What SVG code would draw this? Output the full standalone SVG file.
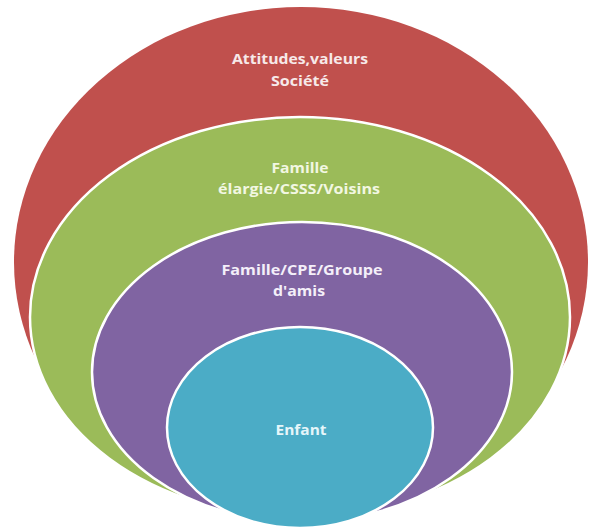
<svg xmlns="http://www.w3.org/2000/svg" width="590" height="531" viewBox="0 0 590 531">
<style>
.lbl{font-family:"Open Sans","Liberation Sans",sans-serif;font-weight:700;font-size:15px;text-anchor:middle}
.ring{stroke:#ffffff;stroke-width:2.5}
</style>
<rect x="0" y="0" width="590" height="531" fill="#ffffff"/>
<g id="societe">
<ellipse cx="301" cy="262" rx="287" ry="255" fill="#C0504D"/>
<text class="lbl" fill="#F7E9E9" x="300" y="64" textLength="136" lengthAdjust="spacingAndGlyphs">Attitudes,valeurs</text>
<text class="lbl" fill="#F7E9E9" x="300" y="86" textLength="58" lengthAdjust="spacingAndGlyphs">Société</text>
</g>
<g id="famille-elargie">
<ellipse class="ring" cx="300" cy="317" rx="270" ry="200" fill="#9BBB59"/>
<text class="lbl" fill="#F2F7E2" x="300" y="173" textLength="57" lengthAdjust="spacingAndGlyphs">Famille</text>
<text class="lbl" fill="#F2F7E2" x="299" y="194" textLength="162" lengthAdjust="spacingAndGlyphs">élargie/CSSS/Voisins</text>
</g>
<g id="famille-cpe">
<ellipse class="ring" cx="302" cy="372" rx="210" ry="150" fill="#8064A2"/>
<text class="lbl" fill="#F4EFF9" x="302" y="275" textLength="161" lengthAdjust="spacingAndGlyphs">Famille/CPE/Groupe</text>
<text class="lbl" fill="#F4EFF9" x="299" y="296" textLength="52" lengthAdjust="spacingAndGlyphs">d'amis</text>
</g>
<g id="enfant">
<ellipse class="ring" cx="300" cy="427.5" rx="133" ry="100.5" fill="#4BACC6"/>
<text class="lbl" fill="#E6F6FA" x="301" y="435" textLength="51" lengthAdjust="spacingAndGlyphs">Enfant</text>
</g>
</svg>
